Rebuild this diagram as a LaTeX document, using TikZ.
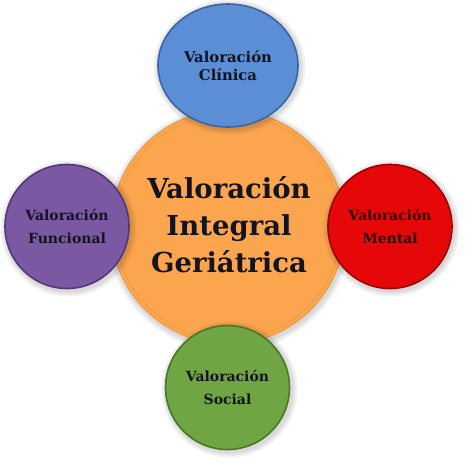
\documentclass[tikz,border=0pt]{standalone}
\usepackage{fontspec}
\setmainfont{DejaVu Serif}
\usetikzlibrary{shapes.geometric}
\definecolor{orfill}{HTML}{FBA64E}
\definecolor{ordraw}{HTML}{EC9A45}
\definecolor{orring}{HTML}{E08A35}
\definecolor{blfill}{HTML}{5B8ED5}
\definecolor{bldraw}{HTML}{3C66A3}
\definecolor{pufill}{HTML}{7B58A2}
\definecolor{pudraw}{HTML}{553678}
\definecolor{rdfill}{HTML}{E60808}
\definecolor{rddraw}{HTML}{A00000}
\definecolor{grfill}{HTML}{70A543}
\definecolor{grdraw}{HTML}{4A7628}
\definecolor{txt}{HTML}{141420}
\tikzset{
  sat/.style={circle, minimum size=124pt, inner sep=0pt, line width=1.6pt, align=center,
    text=txt, font={\fontsize{14}{22.5}\selectfont\bfseries}},
  halo/.style={fill=black, opacity=0.05},
}
\begin{document}
\begin{tikzpicture}[x=1pt,y=-1pt]
\useasboundingbox (0,0) rectangle (474,468);
\fill[white] (0,0) rectangle (474,468);
% soft halos
\foreach \r in {2,4,6}{
  \fill[halo] (229,229) circle (117+\r);
}
% central circle
\node[circle, minimum size=234pt, inner sep=0pt, fill=orfill, draw=ordraw, line width=1pt] (core) at (228,227) {};
\draw[orring, line width=0.5pt, opacity=0.6] (core.center) circle (113);
\node[align=center, text=txt, font={\fontsize{27.5}{37}\selectfont\bfseries}] (coretext) at (229,225)
  {Valoración\\Integral\\Geriátrica};
% halos of satellites
\foreach \cx/\cy in {67/227,390/227,228/388}{
  \foreach \r in {2,4,6}{\fill[halo] (\cx+1.5,\cy+1.5) circle (62+\r);}
}
\foreach \r in {2,4,6}{\fill[halo] (229.5,67) ellipse ({70+\r} and {61.5+\r});}
% satellites
\node[ellipse, minimum width=140pt, minimum height=123pt, inner sep=0pt, line width=1.6pt,
  fill=blfill, draw=bldraw, align=center, text=txt,
  font={\fontsize{14.8}{18.5}\selectfont\bfseries}] (clin) at (228,65.5) {Valoración\\Clínica};
\node[sat, fill=pufill, draw=pudraw] (func) at (67,226.5) {Valoración\\Funcional};
\node[sat, fill=rdfill, draw=rddraw, text={black!80!red}] (ment) at (390,226.5) {Valoración\\Mental};
\node[sat, fill=grfill, draw=grdraw] (soc) at (227.5,387.5) {Valoración\\Social};
\end{tikzpicture}
\end{document}
